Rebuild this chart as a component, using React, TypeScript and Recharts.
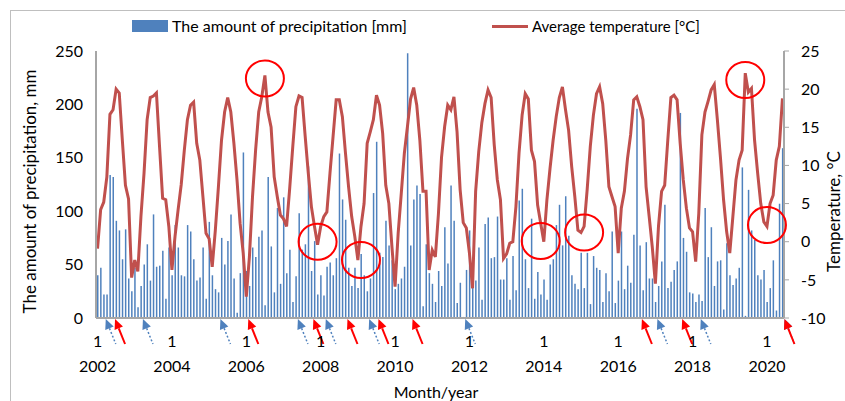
import { Bar, ComposedChart, Line, ReferenceDot, XAxis, YAxis } from "recharts";

const startYear = 2002;

// monthly precipitation [mm], Jan 2002 .. Jun 2020
const precipitation = [
  40, 47, 22, 22, 134, 132, 91, 82, 55, 83, 37, 25,
  47, 10, 30, 50, 69, 35, 97, 48, 49, 63, 18, 66,
  40, 87, 66, 40, 39, 87, 81, 55, 35, 38, 66, 18,
  90, 40, 27, 24, 75, 50, 72, 97, 37, 5, 42, 155,
  44, 30, 66, 57, 76, 82, 12, 132, 67, 24, 103, 32,
  113, 42, 64, 15, 39, 98, 64, 69, 142, 44, 72, 22,
  40, 21, 48, 52, 40, 56, 154, 111, 92, 47, 30, 47,
  28, 60, 40, 25, 37, 117, 165, 61, 57, 91, 68, 54,
  27, 32, 37, 48, 248, 68, 111, 124, 116, 11, 69, 42,
  32, 15, 44, 30, 85, 51, 124, 91, 14, 33, 1, 45,
  82, 35, 35, 66, 17, 88, 94, 56, 57, 95, 36, 36,
  56, 17, 58, 26, 110, 121, 55, 28, 93, 18, 43, 22,
  36, 17, 50, 55, 87, 106, 68, 114, 77, 40, 32, 27,
  61, 28, 61, 13, 58, 47, 45, 15, 42, 25, 81, 14,
  35, 81, 27, 49, 33, 78, 196, 68, 26, 71, 37, 37,
  15, 30, 53, 106, 28, 34, 45, 53, 192, 75, 62, 24,
  23, 15, 22, 16, 103, 57, 85, 30, 53, 54, 8, 70,
  40, 31, 37, 47, 141, 2, 120, 82, 73, 40, 36, 45,
  15, 28, 54, 7, 107, 159,
];

// monthly average temperature [°C]
const temperature = [
  -0.9, 4.2, 5.2, 8.5, 16.7, 17.3, 20.0, 19.5, 13.3, 7.4, 5.6, -4.7,
  -2.4, -3.9, 3.3, 9.0, 16.0, 18.9, 19.1, 19.5, 12.5, 5.7, 5.5, 2.0,
  -3.7, 0.7, 4.2, 7.5, 12.0, 16.0, 17.9, 18.3, 12.9, 10.7, 5.9, 1.1,
  0.4, -3.3, 1.5, 7.2, 13.3, 17.0, 18.9, 17.0, 12.9, 8.1, 2.4, -1.5,
  -7.2, -2.0, 5.9, 12.0, 17.0, 19.0, 21.8, 17.0, 15.0, 8.5, 5.9, 3.5,
  3.0, 2.0, 7.0, 12.5, 17.7, 19.1, 18.9, 13.8, 9.0, 4.6, 2.0, -0.4,
  2.0, 3.3, 3.9, 9.0, 13.8, 18.6, 18.6, 16.4, 11.6, 7.2, 3.3, 0.7,
  -2.4, 2.0, 5.0, 12.9, 14.4, 16.0, 19.2, 17.9, 14.2, 7.4, 5.0, -0.7,
  -5.9, 1.1, 6.3, 11.6, 15.1, 18.7, 20.2, 17.9, 13.3, 6.6, 6.6, -3.7,
  -1.1, -2.0, 3.7, 11.1, 15.1, 17.9, 17.3, 19.0, 14.4, 6.8, 2.5, 1.8,
  -1.5, -6.1, 6.6, 11.8, 15.6, 18.1, 19.9, 18.9, 12.7, 8.1, 5.5, -2.2,
  -1.6, -0.2, 0.0, 4.6, 11.6, 16.6, 19.4, 18.7, 12.0, 10.5, 4.8, 2.4,
  0.0, 5.5, 9.6, 13.3, 16.4, 18.9, 20.3, 17.3, 14.6, 9.8, 5.9, 1.5,
  1.2, 2.0, 6.9, 12.5, 16.6, 19.4, 20.3, 18.1, 13.3, 7.2, 5.9, 4.6,
  -1.5, 4.4, 6.6, 10.9, 14.0, 18.6, 19.0, 17.7, 16.0, 7.2, 3.3, -0.7,
  -5.5, 2.0, 6.6, 7.4, 13.3, 18.9, 19.2, 18.6, 12.9, 8.1, 4.4, 1.8,
  1.3, -2.6, 3.7, 14.0, 17.0, 18.4, 19.9, 20.6, 16.0, 11.0, 5.5, 1.3,
  -1.5, 3.3, 8.1, 10.7, 12.0, 22.1, 19.6, 20.1, 13.3, 9.0, 5.0, 2.6,
  2.0, 5.0, 6.1, 10.7, 12.5, 18.8,
];

const precipTicks = [0, 50, 100, 150, 200, 250];
const tempTicks = [-10, -5, 0, 5, 10, 15, 20, 25];

// annotations: circled temperature extremes, arrows for dry / wet months
const circledMonths = [54, 71, 85, 143, 157, 209, 216];
const circledTemps = [21.4, 0.0, -2.4, 0.1, 1.2, 21.2, 2.2];
const dryMonths = [2, 14, 39, 64, 73, 87, 118, 180, 194, 221];
const wetMonths = [5, 48, 69, 80, 90, 101, 175, 188, 221];

const data = precipitation.map((p, i) => ({
  month: `${startYear + Math.floor(i / 12)}-${(i % 12) + 1}`,
  precipitation: p,
  temperature: temperature[i],
}));

const font = "Lato, 'Liberation Sans', sans-serif";
const axisGray = "#a6a6a6";

const MonthTick = ({ x, y, payload }: any) => {
  const [year, month] = String(payload.value).split("-");
  return (
    <g fontFamily={font} fontSize={16} fill="#000">
      <text x={x} y={y + 29} textAnchor="middle">{month}</text>
      <text x={x} y={y + 54} textAnchor="middle">{year}</text>
    </g>
  );
};

const Arrow = ({ cx, cy, color, dashed }: any) => {
  const tipX = cx + 2;
  const tipY = cy + 1;
  const dx = 10;
  const dy = 25;
  const len = Math.hypot(dx, dy);
  const ux = dx / len;
  const uy = dy / len;
  const bx = tipX + ux * 10;
  const by = tipY + uy * 10;
  const half = 4.5;
  return (
    <g>
      <line
        x1={bx}
        y1={by}
        x2={tipX + dx}
        y2={tipY + dy}
        stroke={color}
        strokeWidth={dashed ? 1.5 : 2}
        strokeDasharray={dashed ? "2 2" : undefined}
      />
      <polygon
        points={`${tipX},${tipY} ${bx - uy * half},${by + ux * half} ${bx + uy * half},${by - ux * half}`}
        fill={color}
      />
    </g>
  );
};

const Circle = ({ cx, cy }: any) => (
  <ellipse cx={cx} cy={cy} rx={19} ry={18} fill="none" stroke="#ff0000" strokeWidth={2} />
);

const LeftTitle = ({ viewBox }: any) => {
  const cx = viewBox.x + 26;
  const cy = viewBox.y + viewBox.height / 2 + 7;
  return (
    <text x={cx} y={cy} transform={`rotate(-90 ${cx} ${cy})`} textAnchor="middle" fontFamily={font} fontSize={17} fill="#000">
      The amount of precipitation, mm
    </text>
  );
};

const RightTitle = ({ viewBox }: any) => {
  const cx = viewBox.x + 56;
  const cy = viewBox.y + viewBox.height / 2 + 27;
  return (
    <text x={cx} y={cy} transform={`rotate(-90 ${cx} ${cy})`} textAnchor="middle" fontFamily={font} fontSize={17} fill="#000">
      Temperature, °C
    </text>
  );
};

const BottomTitle = ({ viewBox }: any) => (
  <text x={viewBox.x + viewBox.width / 2 - 4} y={viewBox.y + 80} textAnchor="middle" fontFamily={font} fontSize={16} fill="#000">
    Month/year
  </text>
);

export default function App() {
  return (
    <div style={{ position: "absolute", left: 0, top: 0, width: 845, height: 401, overflow: "hidden", background: "#fff", fontFamily: font }}>
      <div style={{ position: "absolute", left: 10, top: 10, width: 900, height: 500, border: "1px solid #bfbfbf" }} />
      <div style={{ position: "absolute", left: 132, top: 20, width: 36, height: 12, background: "#4f81bd" }} />
      <div style={{ position: "absolute", left: 172, top: 16, fontSize: 16, lineHeight: "20px", color: "#000" }}>
        The amount of precipitation [mm]
      </div>
      <div style={{ position: "absolute", left: 492, top: 25, width: 36, height: 3, background: "#c0504d" }} />
      <div style={{ position: "absolute", left: 532, top: 16, fontSize: 15, lineHeight: "20px", color: "#000" }}>
        Average temperature [°C]
      </div>
      <div style={{ position: "absolute", left: 0, top: 0 }}>
        <ComposedChart width={845} height={401} data={data} margin={{ top: 51, right: 0, bottom: 0, left: 10 }}>
          <XAxis
            dataKey="month"
            interval={23}
            height={83}
            tickLine={false}
            tickSize={0}
            tickMargin={0}
            axisLine={{ stroke: axisGray, strokeWidth: 2 }}
            tick={<MonthTick />}
            label={{ content: <BottomTitle /> }}
          />
          <YAxis
            yAxisId="left"
            orientation="left"
            width={86}
            domain={[0, 250]}
            ticks={precipTicks}
            tickLine={false}
            tickSize={0}
            tickMargin={13}
            axisLine={{ stroke: axisGray, strokeWidth: 2 }}
            tick={{ fontFamily: font, fontSize: 16, fill: "#000" }}
            label={{ content: <LeftTitle /> }}
          />
          <YAxis
            yAxisId="right"
            orientation="right"
            width={61}
            domain={[-10, 25]}
            ticks={tempTicks}
            tickSize={5}
            tickMargin={12}
            tickLine={{ stroke: axisGray }}
            axisLine={{ stroke: axisGray, strokeWidth: 2 }}
            tick={{ fontFamily: font, fontSize: 16, fill: "#000" }}
            label={{ content: <RightTitle /> }}
          />
          <Bar yAxisId="left" dataKey="precipitation" fill="#4f81bd" barSize={1.5} isAnimationActive={false} />
          <Line
            yAxisId="right"
            type="linear"
            dataKey="temperature"
            stroke="#c0504d"
            strokeWidth={3}
            dot={false}
            isAnimationActive={false}
          />
          {circledMonths.map((m, k) => (
            <ReferenceDot key={`c${m}`} yAxisId="right" x={data[m].month} y={circledTemps[k]} ifOverflow="visible" shape={(p: any) => <Circle {...p} />} />
          ))}
          {dryMonths.map((m) => (
            <ReferenceDot key={`d${m}`} yAxisId="right" x={data[m].month} y={-10} ifOverflow="visible" shape={(p: any) => <Arrow {...p} color="#4f81bd" dashed />} />
          ))}
          {wetMonths.map((m) => (
            <ReferenceDot key={`w${m}`} yAxisId="right" x={data[m].month} y={-10} ifOverflow="visible" shape={(p: any) => <Arrow {...p} color="#ff0000" />} />
          ))}
        </ComposedChart>
      </div>
    </div>
  );
}
